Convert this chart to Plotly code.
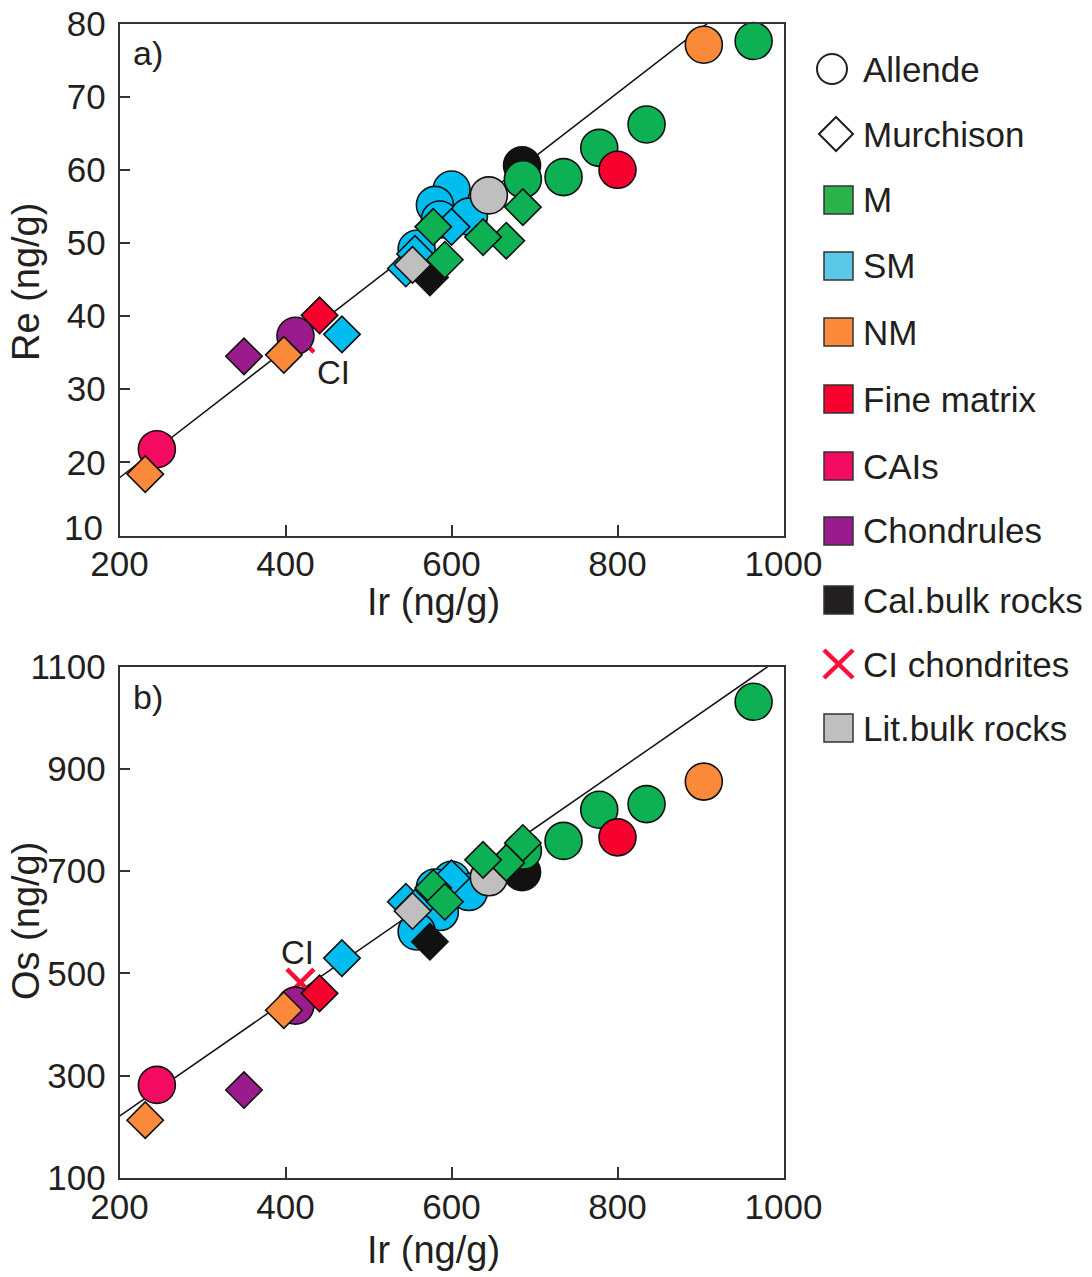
import plotly.graph_objects as go

# ---------------- data (ng/g) ----------------
# Allende bulk / separates (circles)
ALL_CAL_IR = [685]
ALL_CAL_RE = [60.6]
ALL_CAL_OS = [698]

ALL_SM_IR = [600, 580, 586, 621, 558]
ALL_SM_RE = [57.3, 55.2, 53.2, 53.6, 49.2]
ALL_SM_OS = [683, 668, 620, 659, 582]

ALL_LIT_IR = [645]
ALL_LIT_RE = [56.5]
ALL_LIT_OS = [688]

ALL_M_IR = [964, 835, 778, 735, 686]
ALL_M_RE = [77.6, 66.2, 63.0, 59.0, 58.7]
ALL_M_OS = [1031, 831, 820, 759, 740]

ALL_NM_IR = [904]
ALL_NM_RE = [77.1]
ALL_NM_OS = [875]

ALL_FM_IR = [800]
ALL_FM_RE = [60.0]
ALL_FM_OS = [766]

ALL_CAI_IR = [245]
ALL_CAI_RE = [21.8]
ALL_CAI_OS = [282]

ALL_CH_IR = [412]
ALL_CH_RE = [37.3]
ALL_CH_OS = [437]

# Murchison separates (diamonds)
MUR_CAL_IR = [574]
MUR_CAL_RE = [45.3]
MUR_CAL_OS = [562]

MUR_SM_IR = [468, 600, 545, 556]
MUR_SM_RE = [37.5, 52.2, 46.5, 48.5]
MUR_SM_OS = [530, 686, 640, 628]

MUR_M_IR = [686, 666, 638, 578, 592]
MUR_M_RE = [54.9, 50.3, 50.8, 52.2, 47.7]
MUR_M_OS = [755, 716, 722, 667, 640]

MUR_LIT_IR = [553]
MUR_LIT_RE = [47.0]
MUR_LIT_OS = [622]

MUR_NM_IR = [231, 398]
MUR_NM_RE = [18.4, 34.7]
MUR_NM_OS = [213, 428]

MUR_FM_IR = [441]
MUR_FM_RE = [40.1]
MUR_FM_OS = [461]

MUR_CH_IR = [350]
MUR_CH_RE = [34.5]
MUR_CH_OS = [272]

# CI chondrites
CI_IR = [418]
CI_RE = [36.9]
CI_OS = [482]

# reference lines
RE_SLOPE, RE_INT = 0.0877, 0.36
OS_SLOPE, OS_INT = 1.125, -4.0
LINE_IR = [200, 1000]

IR_TICKS = [200, 400, 600, 800, 1000]
RE_TICKS = [10, 20, 30, 40, 50, 60, 70, 80]
OS_TICKS = [100, 300, 500, 700, 900, 1100]

LEGEND_LABELS = ["Allende", "Murchison", "M", "SM", "NM", "Fine matrix", "CAIs",
                 "Chondrules", "Cal.bulk rocks", "CI chondrites", "Lit.bulk rocks"]

# ---------------- styling ----------------
COL = {
    "M": "#0db153",
    "SM": "#00bdef",
    "NM": "#fa8a3a",
    "FM": "#f7022f",
    "CAI": "#f50a62",
    "CH": "#9a1b8b",
    "CAL": "#111111",
    "LIT": "#bfbfbf",
    "CI": "#f5103a",
}
LEG_COL = {
    "M": "#2cb34c",
    "SM": "#5bc8e7",
    "NM": "#fa8a3a",
    "FM": "#f7022f",
    "CAI": "#f50a62",
    "CH": "#9a1b8b",
    "CAL": "#231f20",
    "LIT": "#c0c0c0",
}
TXT = "#231f20"
AX = "#333333"
FONT = "Liberation Sans, Arial, sans-serif"

W, H = 1092, 1277


def px(x):
    return x / W


def py(y):
    return 1 - y / H


fig = go.Figure()

# draw order: cross, Allende circles, then Murchison diamonds
groups = [
    ("CI", "x-thin", CI_IR, CI_RE, CI_OS),
    ("CAL", "circle", ALL_CAL_IR, ALL_CAL_RE, ALL_CAL_OS),
    ("SM", "circle", ALL_SM_IR, ALL_SM_RE, ALL_SM_OS),
    ("LIT", "circle", ALL_LIT_IR, ALL_LIT_RE, ALL_LIT_OS),
    ("M", "circle", ALL_M_IR, ALL_M_RE, ALL_M_OS),
    ("NM", "circle", ALL_NM_IR, ALL_NM_RE, ALL_NM_OS),
    ("FM", "circle", ALL_FM_IR, ALL_FM_RE, ALL_FM_OS),
    ("CAI", "circle", ALL_CAI_IR, ALL_CAI_RE, ALL_CAI_OS),
    ("CH", "circle", ALL_CH_IR, ALL_CH_RE, ALL_CH_OS),
    ("CAL", "diamond", MUR_CAL_IR, MUR_CAL_RE, MUR_CAL_OS),
    ("SM", "diamond", MUR_SM_IR, MUR_SM_RE, MUR_SM_OS),
    ("M", "diamond", MUR_M_IR, MUR_M_RE, MUR_M_OS),
    ("LIT", "diamond", MUR_LIT_IR, MUR_LIT_RE, MUR_LIT_OS),
    ("NM", "diamond", MUR_NM_IR, MUR_NM_RE, MUR_NM_OS),
    ("FM", "diamond", MUR_FM_IR, MUR_FM_RE, MUR_FM_OS),
    ("CH", "diamond", MUR_CH_IR, MUR_CH_RE, MUR_CH_OS),
]

# reference lines (drawn first, under the markers)
fig.add_trace(go.Scatter(x=LINE_IR, y=[RE_SLOPE * v + RE_INT for v in LINE_IR],
                         mode="lines", line=dict(color="#111111", width=1.5),
                         xaxis="x", yaxis="y", showlegend=False, hoverinfo="skip"))
fig.add_trace(go.Scatter(x=LINE_IR, y=[OS_SLOPE * v + OS_INT for v in LINE_IR],
                         mode="lines", line=dict(color="#111111", width=1.5),
                         xaxis="x2", yaxis="y2", showlegend=False, hoverinfo="skip"))


def marker_for(key, sym):
    if sym == "x-thin":
        return dict(symbol="x-thin", size=27, color=COL[key],
                    line=dict(color=COL[key], width=4.5))
    size = 37 if sym == "circle" else 28
    return dict(symbol=sym, size=size, color=COL[key],
                line=dict(color="#111111", width=1.6))


for key, sym, ir, re_, os_ in groups:
    fig.add_trace(go.Scatter(x=ir, y=re_, mode="markers", marker=marker_for(key, sym),
                             xaxis="x", yaxis="y", showlegend=False, cliponaxis=False))
for key, sym, ir, re_, os_ in groups:
    fig.add_trace(go.Scatter(x=ir, y=os_, mode="markers", marker=marker_for(key, sym),
                             xaxis="x2", yaxis="y2", showlegend=False, cliponaxis=False))

TICK_FONT = dict(family=FONT, size=35, color=TXT)
axis_common = dict(
    showline=True, mirror=True, linecolor=AX, linewidth=1.5,
    ticks="inside", ticklen=11, tickwidth=1.5, tickcolor=AX,
    showgrid=False, zeroline=False, automargin=False,
    tickfont=TICK_FONT,
)

# lowest Re label is nudged up (drawn separately) so it clears the Ir labels
re_ticktext = ["" if v == RE_TICKS[0] else str(v) for v in RE_TICKS]

XDOM = [px(119.5), px(783.5)]
fig.update_layout(
    width=W, height=H,
    margin=dict(l=0, r=0, t=0, b=0, autoexpand=False),
    paper_bgcolor="white", plot_bgcolor="white",
    font=dict(family=FONT, color=TXT),
    xaxis=dict(domain=XDOM, range=[200, 1000], tickvals=IR_TICKS, anchor="y",
               ticklabelstandoff=-3, **axis_common),
    yaxis=dict(domain=[py(535.5), py(23.5)], range=[10, 80], tickvals=RE_TICKS,
               ticktext=re_ticktext, anchor="x", ticklabelstandoff=5, **axis_common),
    xaxis2=dict(domain=XDOM, range=[200, 1000], tickvals=IR_TICKS, anchor="y2",
                ticklabelstandoff=-3, **axis_common),
    yaxis2=dict(domain=[py(1178), py(666.5)], range=[100, 1100], tickvals=OS_TICKS,
                anchor="x2", ticklabelstandoff=5, **axis_common),
)

ann = []


def text(x, y, s, size=32, xanchor="center", angle=0):
    ann.append(dict(x=px(x), y=py(y), xref="paper", yref="paper", text=s,
                    showarrow=False, xanchor=xanchor, yanchor="middle", textangle=angle,
                    font=dict(family=FONT, size=size, color=TXT)))


ann.append(dict(x=px(105), y=RE_TICKS[0], xref="paper", yref="y", yshift=8,
                text=str(RE_TICKS[0]), showarrow=False, xanchor="right",
                yanchor="middle", font=TICK_FONT))

# axis titles and panel labels
text(433, 602, "Ir (ng/g)", 38)
text(433, 1250, "Ir (ng/g)", 38)
text(26, 282, "Re (ng/g)", 38, angle=-90)
text(26, 921, "Os (ng/g)", 38, angle=-90)
text(131, 53, "a)", 34, xanchor="left")
text(131, 697, "b)", 34, xanchor="left")
text(315, 372, "CI", 33, xanchor="left")
text(279, 952, "CI", 33, xanchor="left")

# legend column
shapes = []
rows_y = [69, 134, 200, 266, 332, 399, 466, 531, 600, 664, 728]
sq_keys = [None, None, "M", "SM", "NM", "FM", "CAI", "CH", "CAL", None, "LIT"]
for i, (lab, yy) in enumerate(zip(LEGEND_LABELS, rows_y)):
    if lab == "Allende":
        shapes.append(dict(type="circle", xref="paper", yref="paper",
                           x0=px(817), x1=px(847), y0=py(yy + 15), y1=py(yy - 15),
                           line=dict(color="#231f20", width=2), fillcolor="white"))
    elif lab == "Murchison":
        cx, hw = 836, 17
        path = (f"M {px(cx - hw)} {py(yy)} L {px(cx)} {py(yy - hw)} "
                f"L {px(cx + hw)} {py(yy)} L {px(cx)} {py(yy + hw)} Z")
        shapes.append(dict(type="path", xref="paper", yref="paper", path=path,
                           line=dict(color="#231f20", width=2), fillcolor="white"))
    elif lab == "CI chondrites":
        for (a, b, c, d) in [(824, yy - 14, 853, yy + 14), (824, yy + 14, 853, yy - 14)]:
            shapes.append(dict(type="line", xref="paper", yref="paper",
                               x0=px(a), y0=py(b), x1=px(c), y1=py(d),
                               line=dict(color=COL["CI"], width=4.5)))
    else:
        k = sq_keys[i]
        shapes.append(dict(type="rect", xref="paper", yref="paper",
                           x0=px(824), x1=px(853), y0=py(yy + 14), y1=py(yy - 14),
                           line=dict(color="#333333", width=1.5), fillcolor=LEG_COL[k]))
    text(861, yy, lab, 35, xanchor="left")

fig.update_layout(annotations=ann, shapes=shapes)

fig.write_html("out.html")
